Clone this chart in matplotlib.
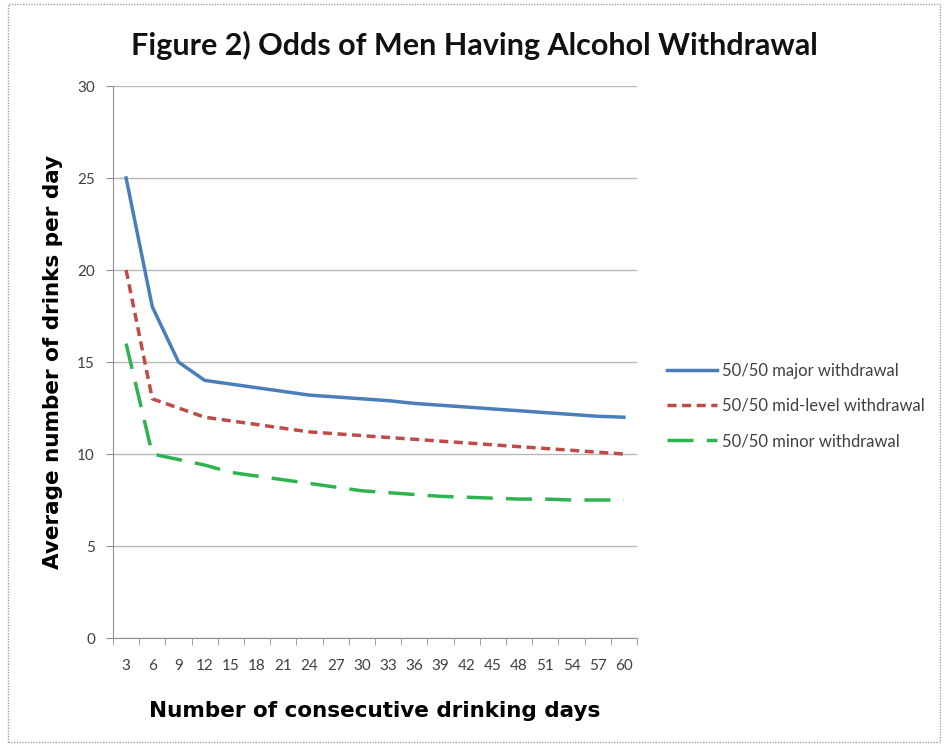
import matplotlib
matplotlib.use("Agg")
import matplotlib.pyplot as plt
from matplotlib.patches import Rectangle

days = [3, 6, 9, 12, 15, 18, 21, 24, 27, 30, 33, 36, 39, 42, 45, 48, 51, 54, 57, 60]
major = [25, 18, 15, 14.0, 13.8, 13.6, 13.4, 13.2, 13.1, 13.0, 12.9, 12.75, 12.65,
         12.55, 12.45, 12.35, 12.25, 12.15, 12.05, 12.0]
mid = [20, 13, 12.5, 12.0, 11.8, 11.6, 11.4, 11.2, 11.1, 11.0, 10.9, 10.8, 10.7,
       10.6, 10.5, 10.4, 10.3, 10.2, 10.1, 10.0]
minor = [16, 10, 9.7, 9.4, 9.0, 8.8, 8.6, 8.4, 8.2, 8.0, 7.9, 7.8, 7.7, 7.65,
         7.6, 7.55, 7.55, 7.5, 7.5, 7.5]
series_labels = ["50/50 major withdrawal", "50/50 mid-level withdrawal", "50/50 minor withdrawal"]
title = "Figure 2) Odds of Men Having Alcohol Withdrawal"
xlabel = "Number of consecutive drinking days"
ylabel = "Average number of drinks per day"

fig = plt.figure(figsize=(9.44, 7.44), dpi=100)
ax = fig.add_axes([113/944, 1-638/744, (637-113)/944, (638-86)/744])

x = list(range(len(days)))
ax.plot(x, major, color="#4a7ebb", lw=2.5, label=series_labels[0])
ax.plot(x, mid, color="#be4b48", lw=2.5, dashes=(2.6, 1.6), label=series_labels[1])
ax.plot(x, minor, color="#2db34f", lw=2.5, dashes=(7.5, 3.8), label=series_labels[2])

ax.set_xlim(-0.5, len(days) - 0.5)
ax.set_ylim(0, 30)
ax.set_yticks(range(0, 31, 5))
ax.set_xticks(x)
ax.set_xticklabels([str(d) for d in days])
ax.set_xticks([i - 0.5 for i in range(len(days) + 1)], minor=True)
ax.tick_params(axis="x", which="major", length=0, pad=15, labelsize=11, labelcolor="#404040")
ax.tick_params(axis="x", which="minor", length=5, color="#909090", direction="out")
ax.tick_params(axis="y", length=5, color="#909090", labelsize=11, labelcolor="#404040", pad=8)
for lab in ax.get_xticklabels() + ax.get_yticklabels():
    lab.set_family("Lato")

ax.grid(axis="y", color="#b8b8b8", lw=1)
ax.set_axisbelow(True)
for s in ["top", "right"]:
    ax.spines[s].set_visible(False)
for s in ["left", "bottom"]:
    ax.spines[s].set_color("#909090")

ax.set_xlabel(xlabel, fontsize=15.5, fontweight="bold", family="DejaVu Sans", labelpad=20)
ax.set_ylabel(ylabel, fontsize=15.5, fontweight="bold", family="DejaVu Sans", labelpad=10)

fig.text(0.503, 1-45/744, title, ha="center", va="center", fontsize=22,
         fontweight="bold", family="Lato", color="#111111")

leg = fig.legend(loc="center left", bbox_to_anchor=(652/944, 1-406/744), frameon=False,
                 handlelength=3.0, labelspacing=1.15, handletextpad=0.3,
                 prop={"family": "Lato", "size": 12})
for t in leg.get_texts():
    t.set_color("#404040")

fig.patches.append(Rectangle((8/944, 2/744), 932/944, 738/744, transform=fig.transFigure,
                             fill=False, ec="#a0a0a0", lw=1, ls=(0, (1, 1))))

fig.savefig("out.png", dpi=100)
